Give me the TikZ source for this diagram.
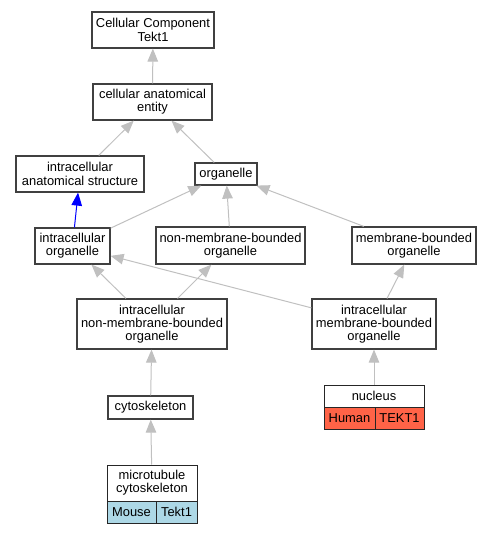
\documentclass[tikz,border=0pt]{standalone}
\usepackage{fontspec}
\setmainfont{Liberation Sans}
\usetikzlibrary{arrows.meta}

\definecolor{edgegray}{RGB}{192,192,192}
\definecolor{boxgray}{RGB}{64,64,64}
\definecolor{humanfill}{RGB}{255,99,71}
\definecolor{mousefill}{RGB}{173,216,230}

\tikzset{
    term/.style={draw=boxgray, line width=1.2pt, fill=white, align=center, inner sep=0pt,
        font=\fontsize{12.9}{13.3}\selectfont},
    cell/.style={term, draw=black!85, line width=1pt, minimum height=22},
    isa/.style={draw=edgegray, line width=1pt, -{Triangle[length=13pt,width=10.5pt]}},
}

\begin{document}
\begin{tikzpicture}[x=1pt, y=-1pt]
    \useasboundingbox (0,0) rectangle (491,533);

    % Ontology terms
    \node[term, minimum width=122, minimum height=36] (cc) at (153,30) {Cellular Component\\Tekt1};
    \node[term, minimum width=119, minimum height=36] (cae) at (152.5,102) {cellular anatomical\\entity};
    \node[term, minimum width=128, minimum height=36] (ias) at (80,174) {intracellular\\anatomical structure};
    \node[term, minimum width=62, minimum height=22] (org) at (226,174) {organelle};
    \node[term, minimum width=75, minimum height=36] (iorg) at (72.5,246) {intracellular\\organelle};
    \node[term, minimum width=149, minimum height=37] (nmbo) at (230.5,245.5) {non-membrane-bounded\\organelle};
    \node[term, minimum width=124, minimum height=37] (mbo) at (414,245.5) {membrane-bounded\\organelle};
    \node[term, minimum width=150, minimum height=50] (inmbo) at (152,324) {intracellular\\non-membrane-bounded\\organelle};
    \node[term, minimum width=124, minimum height=50] (imbo) at (374,324) {intracellular\\membrane-bounded\\organelle};
    \node[term, minimum width=85, minimum height=23] (cyto) at (150.5,407.5) {cytoskeleton};

    % Annotated terms (records)
    \node[cell, minimum width=100] (nuc) at (374,396) {nucleus};
    \node[cell, fill=humanfill, minimum width=51] (nuchum) at (349.5,418) {Human};
    \node[cell, fill=humanfill, minimum width=49] (nuctek) at (399.5,418) {TEKT1};
    \node[cell, minimum width=90, minimum height=36] (mtc) at (152,483) {microtubule\\cytoskeleton};
    \node[cell, fill=mousefill, minimum width=49] (mtcmou) at (131.5,512) {Mouse};
    \node[cell, fill=mousefill, minimum width=41] (mtctek) at (176.5,512) {Tekt1};

    % is_a edges
    \draw[isa] (cae) -- (cc);
    \draw[isa] (ias) -- (cae);
    \draw[isa] (org) -- (cae);
    \draw[isa, draw=blue] (iorg) -- (ias);
    \draw[isa] (iorg) -- (org);
    \draw[isa] (nmbo) -- (org);
    \draw[isa] (mbo) -- (org);
    \draw[isa] (inmbo) -- (iorg);
    \draw[isa] (inmbo) -- (nmbo);
    \draw[isa] (imbo) -- (iorg);
    \draw[isa] (imbo) -- (mbo);
    \draw[isa] (cyto) -- (inmbo);
    \draw[isa] (nuc) -- (imbo);
    \draw[isa] (mtc) -- (cyto);

\end{tikzpicture}
\end{document}
